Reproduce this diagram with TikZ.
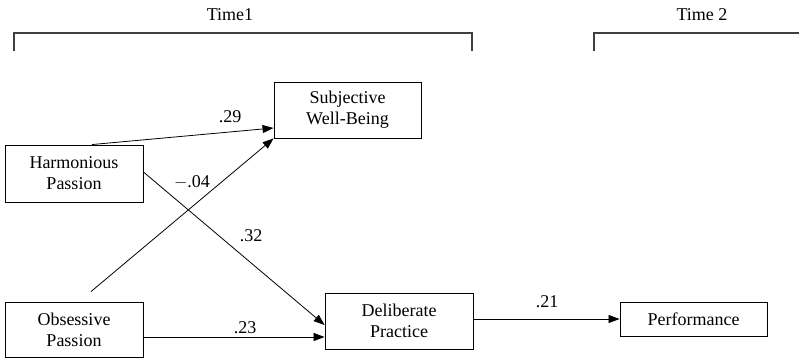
\documentclass[tikz,border=0pt]{standalone}
\usepackage{fontspec}
\setmainfont{Liberation Serif}
\usetikzlibrary{arrows.meta}
\begin{document}
\begin{tikzpicture}[x=1pt,y=-1pt,
  every node/.style={font=\fontsize{18}{21}\selectfont},
  box/.style={draw, line width=0.9pt, align=center, inner sep=0pt},
  conn/.style={line width=0.8pt, -{Triangle[length=11pt,width=8pt]}},
  brk/.style={line width=1.2pt, draw=black!75},
  lbl/.style={inner sep=0pt}]
\useasboundingbox (0,0) rectangle (799,358);
% time brackets
\node[lbl] (t1) at (230,15) {Time1};
\node[lbl] (t2) at (702,15) {Time 2};
\coordinate (b1a) at (14,51);
\coordinate (b1b) at (14,33);
\coordinate (b1c) at (472,33);
\coordinate (b1d) at (472,51);
\draw[brk] (b1a) -- (b1b) -- (b1c) -- (b1d);
\coordinate (b2a) at (594,51);
\coordinate (b2b) at (594,33);
\coordinate (b2c) at (800,33);
\draw[brk] (b2a) -- (b2b) -- (b2c);
% boxes
\node[box, minimum width=147pt, minimum height=56pt] (swb) at (347.5,110) {Subjective\\Well-Being};
\node[box, minimum width=138pt, minimum height=57pt] (hp) at (74,173.5) {Harmonious\\Passion};
\node[box, minimum width=138pt, minimum height=55pt] (op) at (74,329.5) {Obsessive\\Passion};
\node[box, minimum width=148pt, minimum height=56pt] (dp) at (399,321) {Deliberate\\Practice};
\node[box, minimum width=147pt, minimum height=34pt] (perf) at (693.5,319) {Performance};
% connectors
\coordinate (opstart) at ([xshift=17pt,yshift=10pt]op.north);
\draw[conn] ([xshift=18pt]hp.north) -- ([yshift=-18pt]swb.west);
\draw[conn] (opstart) -- (swb.south west);
\draw[conn] ([yshift=1.5pt]hp.east) -- ([yshift=-4pt]dp.west);
\draw[conn] ([yshift=-7.5pt]op.east) -- ([yshift=-16pt]dp.west);
\draw[conn] (dp.east |- perf.west) -- (perf.west);
% labels
\node[lbl] (l29) at (230,117) {.29};
\node[lbl] (l04) at (192,182) {$-$.04};
\node[lbl] (l32) at (251,236) {.32};
\node[lbl] (l23) at (245,328) {.23};
\node[lbl] (l21) at (547,302) {.21};
\end{tikzpicture}
\end{document}
